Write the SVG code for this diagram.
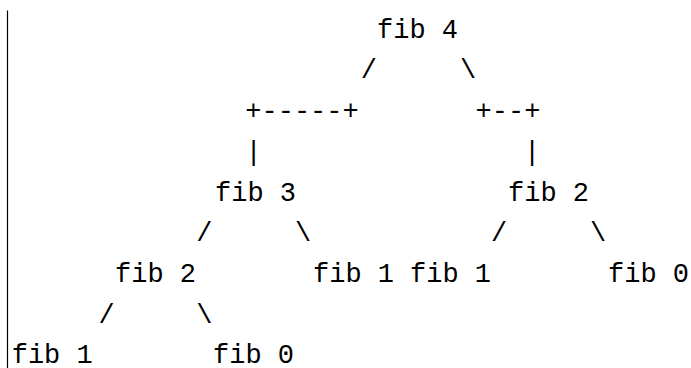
<svg xmlns="http://www.w3.org/2000/svg" width="691" height="368" viewBox="0 0 691 368">
<style>
text{font-family:"Liberation Mono","DejaVu Sans Mono",monospace;font-size:27px;fill:#000;text-anchor:middle}
</style>
<rect width="691" height="368" fill="#fff"/>
<line x1="7.5" y1="10.5" x2="7.5" y2="368" stroke="#000" stroke-width="1.2"/>
<g id="connectors">
<text x="368.8" y="78.4">/</text>
<text x="468" y="78.4">\</text>
<text x="302" y="119.1">+-----+</text>
<text x="508" y="119.1">+--+</text>
<text x="253.7" y="159.8">|</text>
<text x="532" y="159.8">|</text>
<text x="204.3" y="241.2">/</text>
<text x="303" y="241.2">\</text>
<text x="499" y="241.2">/</text>
<text x="598" y="241.2">\</text>
<text x="106.5" y="322.6">/</text>
<text x="204.3" y="322.6">\</text>
</g>
<g id="fib4"><text x="417.5" y="37.7">fib 4</text></g>
<g id="fib3"><text x="255.5" y="200.5">fib 3</text></g>
<g id="fib2r"><text x="548.5" y="200.5">fib 2</text></g>
<g id="fib2l"><text x="155.5" y="281.9">fib 2</text></g>
<g id="fib1m"><text x="353.5" y="281.9">fib 1</text></g>
<g id="fib1r"><text x="450.5" y="281.9">fib 1</text></g>
<g id="fib0r"><text x="648.5" y="281.9">fib 0</text></g>
<g id="fib1b"><text x="52.2" y="363.3">fib 1</text></g>
<g id="fib0b"><text x="253.5" y="363.3">fib 0</text></g>
</svg>
